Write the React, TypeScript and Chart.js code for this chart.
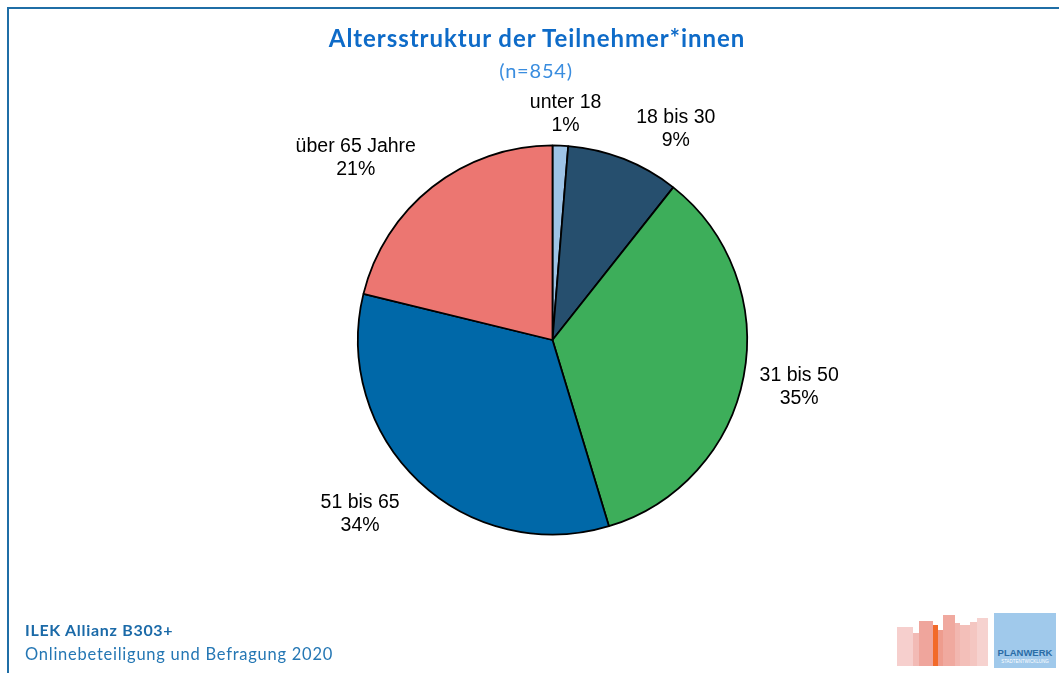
import React, { useEffect, useRef } from "react";
import { Chart, registerables } from "chart.js";

Chart.register(...registerables);

const categories = ["unter 18", "18 bis 30", "31 bis 50", "51 bis 65", "über 65 Jahre"];
const counts = [11, 80, 296, 286, 181];
const percentLabels = ["1%", "9%", "35%", "34%", "21%"];
const sliceColors = ["#9DC3E6", "#264F6E", "#3DAE5A", "#0068A8", "#EC7671"];
// label fine offsets (styling) relative to radial anchor
const labelOffsets: [number, number][] = [
  [4, -1],
  [41, -2],
  [26, 5],
  [-38, 11],
  [-58, -5],
];

const labelPlugin = {
  id: "sliceLabels",
  afterDatasetsDraw(chart: any) {
    const ctx = chart.ctx;
    const meta = chart.getDatasetMeta(0);
    ctx.save();
    ctx.font = "19.5px 'Liberation Sans', Arial, sans-serif";
    ctx.fillStyle = "#000";
    ctx.textAlign = "center";
    ctx.textBaseline = "middle";
    meta.data.forEach((arc: any, i: number) => {
      const p = arc.getProps(["x", "y", "startAngle", "endAngle", "outerRadius"], true);
      const mid = (p.startAngle + p.endAngle) / 2;
      const r = p.outerRadius + 30;
      const x = p.x + Math.cos(mid) * r + labelOffsets[i][0];
      const y = p.y + Math.sin(mid) * r + labelOffsets[i][1];
      ctx.fillText(categories[i], x, y - 11.5);
      ctx.fillText(percentLabels[i], x, y + 11.5);
    });
    ctx.restore();
  },
};

function PieChart() {
  const ref = useRef<HTMLCanvasElement | null>(null);
  useEffect(() => {
    if (!ref.current) return;
    const chart = new Chart(ref.current, {
      type: "pie",
      data: {
        labels: categories,
        datasets: [
          {
            data: counts,
            backgroundColor: sliceColors,
            borderColor: "#000000",
            borderWidth: 1.8,
          },
        ],
      },
      options: {
        responsive: false,
        animation: false,
        layout: { padding: { left: 357, right: 311, top: 144.5, bottom: 137.5 } },
        plugins: {
          legend: { display: false },
          tooltip: { enabled: false },
          title: { display: false },
        },
      },
      plugins: [labelPlugin],
    });
    return () => chart.destroy();
  }, []);
  return <canvas ref={ref} width={1059} height={673} style={{ position: "absolute", left: 0, top: 0 }} />;
}

const bldg: { l: number; w: number; t: number; c: string }[] = [
  { l: 897, w: 16, t: 627, c: "#F6CFCD" },
  { l: 913, w: 6, t: 633, c: "#F2BAB5" },
  { l: 919, w: 14, t: 621, c: "#EFA59C" },
  { l: 933, w: 5, t: 625, c: "#F26A2A" },
  { l: 938, w: 5, t: 630, c: "#EE9C8E" },
  { l: 943, w: 12, t: 615, c: "#F0A99F" },
  { l: 955, w: 5, t: 623, c: "#F2B7B0" },
  { l: 960, w: 10, t: 625, c: "#F3BFB9" },
  { l: 970, w: 7, t: 622, c: "#F4C6C1" },
  { l: 977, w: 11, t: 618, c: "#F6D2CF" },
];

export default function App() {
  return (
    <div style={{ position: "absolute", left: 0, top: 0, width: 1059, height: 673, background: "#fff", overflow: "hidden" }}>
      <div
        style={{
          position: "absolute",
          left: 7,
          top: 7,
          width: 1100,
          height: 700,
          borderTop: "2px solid #1F6EA6",
          borderLeft: "2px solid #1F6EA6",
        }}
      />
      <PieChart />
      <div
        style={{
          position: "absolute",
          left: 0,
          width: 1074,
          top: 23,
          textAlign: "center",
          fontFamily: "Lato, 'Open Sans', sans-serif",
          fontWeight: 700,
          fontSize: 24,
          letterSpacing: 0.95,
          color: "#0E6BC8",
          lineHeight: "30px",
        }}
      >
        Altersstruktur der Teilnehmer*innen
      </div>
      <div
        style={{
          position: "absolute",
          left: 0,
          width: 1072,
          top: 57,
          textAlign: "center",
          fontFamily: "Lato, 'Open Sans', sans-serif",
          fontSize: 20,
          letterSpacing: 0.8,
          color: "#3A8DDF",
          lineHeight: "26px",
        }}
      >
        (n=854)
      </div>
      <div
        style={{
          position: "absolute",
          left: 25,
          top: 620,
          fontFamily: "Lato, 'Open Sans', sans-serif",
          fontWeight: 700,
          fontSize: 16,
          letterSpacing: 0.7,
          color: "#1B6AA8",
          lineHeight: "20px",
        }}
      >
        ILEK Allianz B303+
      </div>
      <div
        style={{
          position: "absolute",
          left: 25,
          top: 643,
          fontFamily: "Lato, 'Open Sans', sans-serif",
          fontSize: 16.5,
          letterSpacing: 0.75,
          color: "#2577B4",
          lineHeight: "22px",
        }}
      >
        Onlinebeteiligung und Befragung 2020
      </div>
      {bldg.map((b, i) => (
        <div key={i} style={{ position: "absolute", left: b.l, top: b.t, width: b.w, height: 666 - b.t, background: b.c }} />
      ))}
      <div style={{ position: "absolute", left: 994, top: 613, width: 62, height: 55, background: "#A0C9EB" }}>
        <div
          style={{
            position: "absolute",
            left: 0,
            width: 62,
            top: 35,
            textAlign: "center",
            fontFamily: "'Liberation Sans', Arial, sans-serif",
            fontWeight: 700,
            fontSize: 9.5,
            color: "#2A6DA6",
            lineHeight: "10px",
          }}
        >
          PLANWERK
        </div>
        <div
          style={{
            position: "absolute",
            left: 0,
            width: 62,
            top: 46,
            textAlign: "center",
            fontFamily: "'Liberation Sans', Arial, sans-serif",
            fontSize: 4.5,
            color: "#ffffff",
            lineHeight: "5px",
          }}
        >
          STADTENTWICKLUNG
        </div>
      </div>
    </div>
  );
}
